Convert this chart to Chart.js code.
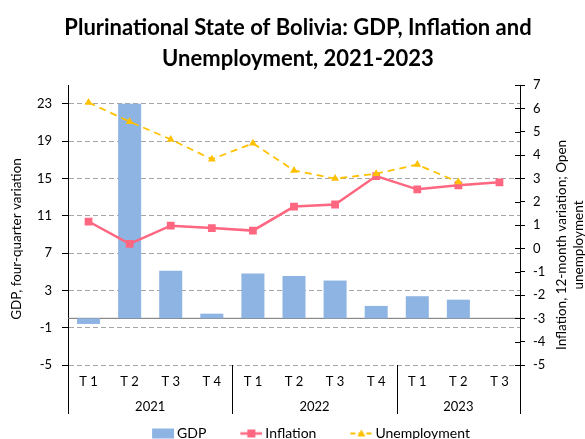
<!DOCTYPE html>
<html>
<head>
<meta charset="utf-8">
<script src="https://cdn.jsdelivr.net/npm/chart.js@4.4.1/dist/chart.umd.min.js"></script>
<style>
  html, body { margin: 0; padding: 0; background: #fff; }
</style>
</head>
<body>
<canvas id="chart" width="585" height="439"></canvas>
<script>
const quarters = ['T 1', 'T 2', 'T 3', 'T 4', 'T 1', 'T 2', 'T 3', 'T 4', 'T 1', 'T 2', 'T 3'];
const years = ['2021', '2022', '2023'];
const quartersPerYear = [4, 4, 3];

const gdp = [-0.6, 23.0, 5.1, 0.5, 4.8, 4.55, 4.05, 1.33, 2.37, 2.0, null];
const inflation = [1.15, 0.19, 0.97, 0.87, 0.76, 1.79, 1.88, 3.1, 2.53, 2.7, 2.83];
const unemployment = [6.25, 5.43, 4.67, 3.82, 4.5, 3.34, 2.99, 3.2, 3.59, 2.84, null];

const gdpTicks = [-5, -1, 3, 7, 11, 15, 19, 23];
const rightTicks = [-5, -4, -3, -2, -1, 0, 1, 2, 3, 4, 5, 6, 7];

const gdpColor = '#8DB4E2';
const inflColor = '#FF6680';
const unempColor = '#FFC000';
const FONT = 'Lato';

// year axis: half-quarter slots, year name at the middle slot of its group
let yearSlots = new Array(quarters.length * 2 + 1).fill('');
let bounds = [0];
let start = 0;
quartersPerYear.forEach((n, i) => {
    yearSlots[start * 2 + n] = years[i];
    start += n;
    bounds.push(start);
});

// legend icons (a line with marker, like the spreadsheet legend)
const W = 44;
function legendIcon(kind) {
    const c = document.createElement('canvas');
    c.width = W + 8;
    c.height = 14;
    const g = c.getContext('2d');
    const x0 = W - 14, x1 = W + 8, cy = 7, cx = (x0 + x1) / 2;
    if (kind == 'bar') {
        g.fillStyle = gdpColor;
        g.fillRect(x0, 2, 22, 10);
    } else if (kind == 'rect') {
        g.strokeStyle = inflColor;
        g.lineWidth = 2.5;
        g.beginPath(); g.moveTo(x0, cy); g.lineTo(x1, cy); g.stroke();
        g.fillStyle = inflColor;
        g.fillRect(cx - 4, cy - 4, 8, 8);
    } else {
        g.strokeStyle = unempColor;
        g.lineWidth = 1.8;
        g.setLineDash([5, 3]);
        g.beginPath(); g.moveTo(x0, cy); g.lineTo(x1, cy); g.stroke();
        g.fillStyle = unempColor;
        g.beginPath();
        g.moveTo(cx, cy - 4); g.lineTo(cx + 4, cy + 3); g.lineTo(cx - 4, cy + 3);
        g.closePath(); g.fill();
    }
    return c;
}
const icons = [legendIcon('bar'), legendIcon('rect'), legendIcon('tri')];

// zero line, year separators, right tick marks and axis titles
const extras = {
    id: 'extras',
    beforeDatasetsDraw(chart) {
        const {ctx, chartArea} = chart;
        const y0 = chart.scales.y.getPixelForValue(0);
        ctx.save();
        ctx.strokeStyle = '#707070';
        ctx.lineWidth = 1;
        ctx.beginPath();
        ctx.moveTo(chartArea.left, y0);
        ctx.lineTo(chartArea.right, y0);
        ctx.stroke();
        ctx.restore();
    },
    afterDraw(chart) {
        const {ctx, chartArea} = chart;
        const x = chart.scales.x;
        const y1 = chart.scales.y1;
        const step = x.getPixelForValue(1) - x.getPixelForValue(0);
        ctx.save();
        ctx.strokeStyle = '#000';
        ctx.lineWidth = 1;
        bounds.forEach(b => {
            const px = Math.round(x.getPixelForValue(0) + (b - 0.5) * step) + 0.5;
            ctx.beginPath();
            ctx.moveTo(px, chartArea.bottom);
            ctx.lineTo(px, chartArea.bottom + 49);
            ctx.stroke();
        });
        rightTicks.forEach(v => {
            const py = Math.round(y1.getPixelForValue(v)) + 0.5;
            ctx.beginPath();
            ctx.moveTo(chartArea.right - 5, py);
            ctx.lineTo(chartArea.right, py);
            ctx.stroke();
        });
        ctx.fillStyle = '#000';
        ctx.font = '13.5px ' + FONT;
        ctx.textAlign = 'center';
        ctx.textBaseline = 'middle';
        ctx.translate(17, 239);
        ctx.rotate(-Math.PI / 2);
        ctx.fillText('GDP, four-quarter variation', 0, 0);
        ctx.setTransform(1, 0, 0, 1, 0, 0);
        ctx.translate(562, 245);
        ctx.rotate(-Math.PI / 2);
        ctx.fillText('Inflation, 12-month variation; Open', 0, 0);
        ctx.fillText('unemployment', 0, 16.5);
        ctx.restore();
    }
};

const tickFont = {family: FONT, size: 13};

new Chart(document.getElementById('chart'), {
    type: 'bar',
    data: {
        labels: quarters,
        datasets: [
            {
                label: 'GDP',
                data: gdp,
                backgroundColor: gdpColor,
                yAxisID: 'y',
                xAxisID: 'x',
                barPercentage: 0.56,
                categoryPercentage: 1,
                order: 3
            },
            {
                type: 'line',
                label: 'Inflation',
                data: inflation,
                borderColor: inflColor,
                backgroundColor: inflColor,
                borderWidth: 2.5,
                pointStyle: 'rect',
                pointRadius: 5.5,
                pointBorderWidth: 0,
                yAxisID: 'y1',
                xAxisID: 'x',
                order: 2
            },
            {
                type: 'line',
                label: 'Unemployment',
                data: unemployment,
                borderColor: unempColor,
                backgroundColor: unempColor,
                borderWidth: 1.8,
                borderDash: [7, 5],
                pointStyle: 'triangle',
                pointRadius: 4.5,
                pointBorderWidth: 0,
                yAxisID: 'y1',
                xAxisID: 'x',
                order: 1
            }
        ]
    },
    options: {
        responsive: false,
        animation: false,
        layout: {
            padding: {left: 0, right: -11, top: 0, bottom: -11.5}
        },
        plugins: {
            title: {
                display: true,
                text: ['Plurinational State of Bolivia: GDP, Inflation and', 'Unemployment, 2021-2023'],
                color: '#000',
                font: {family: FONT, size: 22, weight: 'bold', lineHeight: 1.41},
                padding: {top: 12.5, bottom: 10.5}
            },
            legend: {
                position: 'bottom',
                labels: {
                    usePointStyle: true,
                    pointStyleWidth: W,
                    padding: 8,
                    color: '#000',
                    font: {family: FONT, size: 14},
                    sort: (a, b) => a.datasetIndex - b.datasetIndex,
                    generateLabels: function (chart) {
                        const items = Chart.defaults.plugins.legend.labels.generateLabels(chart);
                        items.forEach(it => {
                            it.pointStyle = icons[it.datasetIndex];
                        });
                        return items;
                    }
                }
            },
            tooltip: {enabled: false}
        },
        scales: {
            x: {
                type: 'category',
                position: 'bottom',
                grid: {display: false, drawTicks: false},
                border: {display: false},
                ticks: {color: '#000', font: tickFont, padding: 9, maxRotation: 0},
                afterFit: s => { s.height = 30; }
            },
            x2: {
                type: 'category',
                position: 'bottom',
                labels: yearSlots,
                offset: false,
                grid: {display: false, drawTicks: false},
                border: {display: false},
                ticks: {color: '#000', font: tickFont, padding: 4, maxRotation: 0, autoSkip: false},
                afterFit: s => { s.height = 23.5; }
            },
            y: {
                position: 'left',
                min: -5,
                max: 25,
                afterBuildTicks: s => { s.ticks = gdpTicks.map(v => ({value: v})); },
                grid: {color: '#A6A6A6', tickColor: '#000', tickLength: 6},
                border: {display: true, color: '#000', dash: [5, 3]},
                ticks: {color: '#000', font: tickFont, padding: 10},
                afterFit: s => { s.width = 68; }
            },
            y1: {
                position: 'right',
                min: -5,
                max: 7,
                afterBuildTicks: s => { s.ticks = rightTicks.map(v => ({value: v})); },
                grid: {drawOnChartArea: false, tickColor: '#000', tickLength: 5},
                border: {display: true, color: '#000'},
                ticks: {color: '#000', font: tickFont, padding: 8},
                afterFit: s => { s.width = 76; }
            }
        }
    },
    plugins: [extras]
});
</script>
</body>
</html>
